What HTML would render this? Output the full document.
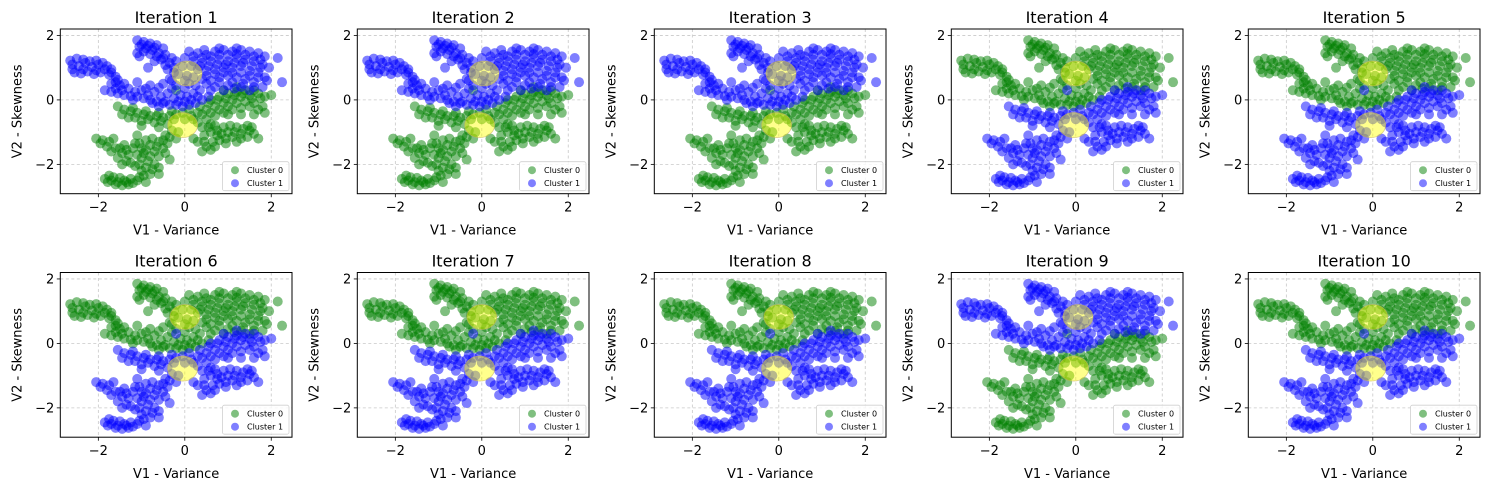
<!DOCTYPE html>
<html><head><meta charset="utf-8">
<style>
html,body{margin:0;padding:0;background:#fff;}
svg{display:block;font-family:"DejaVu Sans","Liberation Sans",sans-serif;}
</style></head>
<body>
<svg id="fig" width="1489" height="490" viewBox="0 0 1489 490" xmlns="http://www.w3.org/2000/svg"></svg>
<script>
// ---- data: upper group (cluster 1 in unswapped iterations) ----
const upperX = [
-2.65,-2.5,-2.35,-2.2,-2.05,-1.9,-1.8,-1.7,-2.55,-2.4,-2.25,-2.1,-1.95,-1.75,-1.6,-2.45,-2.15,-1.6,-1.5,
-1.1,-0.95,-0.8,-0.65,-0.5,-1.05,-0.9,-0.75,-0.6,-0.45,-1.1,-0.3,-0.2,-0.85,-0.55,-0.4,-0.15,-0.3,
0.1,0.3,0.5,0.7,0.9,1.1,1.3,1.5,1.7,1.85,0.2,0.4,0.6,0.8,1.0,1.2,1.4,1.6,1.8,0.3,0.5,0.7,0.9,1.1,1.3,1.5,1.7,1.85,0.4,0.6,0.8,1.0,1.2,1.4,1.6,1.8,0.7,1.0,1.3,1.5,2.15,2.25,1.95,0.0,-0.05,
-1.85,-1.7,-1.55,-1.4,-1.25,-1.1,-0.95,-0.8,-0.65,-0.5,-0.35,-0.2,-0.05,0.1,0.25,0.4,0.55,-1.3,-1.0,-0.7,-0.4,-0.1,0.2,-0.8,-0.5,-0.2,0.1,-1.1,-1.7,-0.6,0.0,0.35,
-2.6,-2.3,-2.0,-1.85,-2.35,-2.05,-1.7,-1.55,-2.6,-1.4,
-1.0,-0.85,-0.7,-0.95,-0.8,-0.65,-0.5,-0.35,-1.05,-0.7,-0.45,-0.25,-0.25,
0.2,0.4,0.6,0.8,1.0,1.2,1.4,1.6,1.75,0.15,0.35,0.55,0.75,0.95,1.15,1.35,1.55,1.75,0.2,0.5,0.7,0.9,1.1,1.3,1.5,1.7,0.5,0.8,1.1,1.35,1.6,0.9,1.15,0.6,0.25,0.0,1.9,0.45,0.8,1.2,
-1.6,-1.45,-1.15,-0.85,-0.55,-0.25,0.05,0.3,-0.9,-0.6,-0.3,0.0,-0.75,-0.45,-0.15,0.15,-1.2,-0.35,0.05
];
const upperY = [
1.22,1.28,1.25,1.2,1.22,1.15,1.05,0.95,0.85,0.82,0.88,0.8,0.85,0.78,0.72,1.05,1.02,0.55,0.45,
1.85,1.8,1.75,1.7,1.6,1.65,1.6,1.55,1.45,1.4,1.45,1.3,1.2,1.0,1.25,0.95,0.8,0.6,
1.5,1.45,1.4,1.5,1.55,1.5,1.55,1.5,1.45,1.35,1.2,1.15,1.2,1.25,1.2,1.3,1.25,1.2,1.1,0.95,0.9,0.95,1.0,1.0,1.05,0.9,0.85,0.7,0.65,0.6,0.7,0.75,0.7,0.65,0.55,0.4,0.4,0.45,0.4,0.3,1.3,0.55,1.0,1.3,1.05,
0.3,0.25,0.2,0.15,0.12,0.1,0.05,0.0,-0.05,-0.1,-0.15,-0.15,-0.2,-0.15,-0.1,0.0,0.1,0.35,0.3,0.25,0.2,0.15,0.2,0.45,0.5,0.45,0.5,0.55,0.5,-0.2,-0.05,0.3,
1.1,1.15,1.1,0.95,0.95,0.92,0.85,0.62,0.95,0.5,
1.72,1.68,1.62,1.5,1.42,1.35,1.3,1.15,1.35,1.2,1.08,1.0,0.85,
1.35,1.3,1.35,1.4,1.4,1.42,1.4,1.35,1.25,1.05,1.05,1.05,1.1,1.1,1.15,1.15,1.05,1.0,0.7,0.75,0.8,0.85,0.85,0.85,0.75,0.7,0.5,0.55,0.55,0.5,0.4,0.3,0.35,0.3,0.45,0.6,0.6,1.55,1.6,1.6,
0.35,0.3,0.25,0.15,0.1,0.05,0.1,0.1,0.35,0.38,0.35,0.35,-0.1,-0.05,-0.05,0.0,0.0,0.65,0.75
];
// ---- lower group (cluster 0 in unswapped iterations) ----
const lowerX = [
-1.55,-1.4,-1.25,-1.1,-0.95,-0.8,-0.65,-0.5,-0.35,-0.2,-1.3,-1.0,-0.7,-0.4,0.0,0.15,0.3,0.5,0.7,0.9,1.1,1.3,1.5,1.7,1.85,0.6,0.8,1.0,1.2,1.4,0.5,0.7,0.9,1.1,1.3,1.5,1.7,1.85,2.0,0.4,0.3,1.2,-0.2,
0.45,0.6,0.75,0.9,1.05,1.2,1.35,1.5,1.6,1.45,1.3,1.1,0.95,0.8,0.65,0.5,0.6,0.3,1.7,0.2,
-2.05,-1.9,-1.75,-1.6,-1.45,-1.3,-1.55,-1.2,-1.05,-0.9,-0.75,-0.6,-0.45,-0.3,-0.15,-1.1,-0.9,-0.7,-0.5,-1.0,-0.85,-0.7,-1.15,-1.0,-0.8,-0.6,-0.35,-1.4,-1.25,-0.2,
-1.85,-1.7,-1.55,-1.4,-1.25,-1.1,-1.6,-1.3,-0.9,-1.75,
-1.45,-1.15,-0.85,-0.55,-0.25,-1.2,-0.9,-0.6,-0.3,-0.05,0.1,0.35,0.55,0.75,0.95,1.15,1.35,1.55,1.75,0.4,0.6,0.8,1.0,1.2,1.4,1.6,1.8,1.0,1.3,1.6,0.6,0.2,-1.0,-0.6,1.6,0.9,
0.55,0.7,0.85,1.0,1.15,1.3,1.45,1.55,0.75,0.45,0.95,1.2,0.7,0.4,
-1.95,-1.8,-1.7,-1.5,-1.35,-1.15,-1.0,-0.8,-0.65,-0.5,-0.35,-1.1,-0.95,-0.8,-0.6,-0.45,-1.05,-0.9,-0.75,-0.6,-0.95,-1.35,-1.45,-0.4,-1.65,
-1.78,-1.5,-1.35,-1.2,-1.05,-1.45,-1.65
];
const lowerY = [
-0.2,-0.3,-0.35,-0.4,-0.45,-0.5,-0.5,-0.55,-0.5,-0.45,-0.55,-0.65,-0.7,-0.75,-0.6,-0.5,-0.4,-0.3,-0.2,-0.1,0.0,0.1,0.15,0.2,0.1,0.0,0.1,0.2,0.25,0.3,-0.6,-0.5,-0.4,-0.3,-0.25,-0.2,-0.3,-0.4,0.15,-0.85,-0.7,0.4,0.3,
-1.1,-1.0,-0.95,-0.85,-0.8,-0.85,-0.9,-0.95,-1.05,-1.15,-1.2,-1.15,-1.2,-1.25,-1.3,-1.45,-1.55,-1.3,-1.2,-1.2,
-1.2,-1.25,-1.3,-1.5,-1.65,-1.7,-1.8,-1.5,-1.35,-1.25,-1.2,-1.3,-1.1,-0.95,-1.0,-1.1,-1.55,-1.6,-1.5,-1.8,-1.9,-2.0,-2.05,-2.2,-2.3,-2.1,-1.85,-1.4,-1.95,-1.2,
-2.45,-2.5,-2.55,-2.5,-2.45,-2.5,-2.62,-2.62,-2.55,-2.35,
-0.45,-0.55,-0.6,-0.65,-0.6,-0.25,-0.35,-0.4,-0.35,-0.4,-0.3,-0.2,-0.1,0.0,0.05,0.15,0.2,0.05,0.05,-0.45,-0.4,-0.3,-0.2,-0.1,-0.05,-0.1,-0.2,-0.45,-0.45,-0.45,-0.75,-0.6,-0.8,-0.85,0.3,0.3,
-0.85,-0.8,-1.05,-1.0,-1.0,-1.05,-0.8,-0.85,-1.1,-1.3,-1.35,-1.3,-1.45,-1.6,
-1.35,-1.45,-1.6,-1.5,-1.55,-1.35,-1.5,-1.4,-1.45,-1.25,-1.15,-1.7,-1.65,-1.75,-1.75,-1.65,-2.0,-2.1,-2.15,-2.3,-2.35,-1.9,-2.0,-1.35,-1.2,
-2.55,-2.42,-2.55,-2.58,-2.4,-2.65,-2.4
];
// 0 = upper group labelled cluster 1, 1 = labels swapped
const iterSwap = [0,0,0,1,1,1,1,1,0,1];
const iterTitles = ["Iteration 1","Iteration 2","Iteration 3","Iteration 4","Iteration 5","Iteration 6","Iteration 7","Iteration 8","Iteration 9","Iteration 10"];
const centUpperX = [0.05,0.05,0.05,0.0,0.0,0.0,0.0,0.0,0.05,0.0];
const centUpperY = [0.82,0.82,0.82,0.82,0.82,0.82,0.82,0.82,0.82,0.82];
const centLowerX = [-0.05,-0.05,-0.05,-0.05,-0.05,-0.05,-0.05,-0.05,-0.05,-0.05];
const centLowerY = [-0.78,-0.78,-0.78,-0.78,-0.78,-0.78,-0.78,-0.78,-0.78,-0.78];
const xTicks = [-2,0,2];
const yTicks = [-2,0,2];
const xTickLabels = ["\u22122","0","2"];
const yTickLabels = ["\u22122","0","2"];

// ---- layout ----
const NS = "http://www.w3.org/2000/svg";
const svg = document.getElementById("fig");
const XMIN=-2.88, XMAX=2.48, YMIN=-2.91, YMAX=2.2;
const W=231.7, H=164.7;
function mk(tag, attrs, parent){const e=document.createElementNS(NS,tag);for(const k in attrs)e.setAttribute(k,attrs[k]);(parent||svg).appendChild(e);return e;}
const defs = mk("defs",{});
for(let i=0;i<10;i++){
  const col=i%5,row=Math.floor(i/5);
  const L=60.3+297*col, T=row===0?29:272.5;
  const sx=v=>L+(v-XMIN)/(XMAX-XMIN)*W;
  const sy=v=>T+(YMAX-v)/(YMAX-YMIN)*H;
  const g=mk("g",{});
  
  
  const cp=mk("clipPath",{id:"cp"+i},defs);
  mk("rect",{x:L,y:T,width:W,height:H},cp);
  xTicks.forEach(t=>{const l=mk("line",{x1:sx(t),x2:sx(t),y1:T,y2:T+H,stroke:"#b0b0b0","stroke-width":0.8,"stroke-dasharray":"3,2.5","stroke-opacity":0.7},g);});
  yTicks.forEach(t=>{const l=mk("line",{x1:L,x2:L+W,y1:sy(t),y2:sy(t),stroke:"#b0b0b0","stroke-width":0.8,"stroke-dasharray":"3,2.5","stroke-opacity":0.7},g);});
  const pg=mk("g",{"clip-path":"url(#cp"+i+")"},g);
  
  
  const sw=iterSwap[i];
  const c0 = sw ? [upperX,upperY] : [lowerX,lowerY];
  const c1 = sw ? [lowerX,lowerY] : [upperX,upperY];
  [[c0,0],[c1,1]].forEach(([arr,cl])=>{
    for(let p=0;p<arr[0].length;p++){
      const c=mk("circle",{cx:sx(arr[0][p]),cy:sy(arr[1][p]),r:5,fill:cl===0?"#008000":"#0000ff","fill-opacity":0.5},pg);
      
      
    }
  });
  [[centUpperX[i],centUpperY[i]],[centLowerX[i],centLowerY[i]]].forEach(([cx,cy])=>{
    const e=mk("ellipse",{cx:sx(cx),cy:sy(cy),rx:15,ry:12.5,fill:"#ffff00","fill-opacity":0.45,stroke:"#c8b060","stroke-width":0.8,"stroke-opacity":0.6},pg);
    
    
  });
  const fr=mk("rect",{x:L,y:T,width:W,height:H,fill:"none",stroke:"#000","stroke-width":1},g);
  
  
  xTicks.forEach((t,k)=>{mk("line",{x1:sx(t),x2:sx(t),y1:T+H,y2:T+H+3.5,stroke:"#000","stroke-width":0.8},g);
    const tx=mk("text",{x:sx(t),y:T+H+18,"font-size":13,"text-anchor":"middle",fill:"#000"},g);tx.textContent=xTickLabels[k];
    });
  yTicks.forEach((t,k)=>{mk("line",{x1:L-3.5,x2:L,y1:sy(t),y2:sy(t),stroke:"#000","stroke-width":0.8},g);
    const tx=mk("text",{x:L-6,y:sy(t)+4.5,"font-size":13,"text-anchor":"end",fill:"#000"},g);tx.textContent=yTickLabels[k];
    });
  const ti=mk("text",{x:L+W/2,y:T-6,"font-size":16,"text-anchor":"middle",fill:"#000"},g);ti.textContent=iterTitles[i];
  
  const xl=mk("text",{x:L+W/2,y:T+H+41,"font-size":13,"text-anchor":"middle",fill:"#000"},g);xl.textContent="V1 - Variance";
  
  const yl=mk("text",{x:0,y:0,"font-size":13,"text-anchor":"middle",fill:"#000",transform:"translate("+(L-39)+","+(T+H/2)+") rotate(-90)"},g);yl.textContent="V2 - Skewness";
  
  const lg=mk("g",{},g);
  
  
  mk("rect",{x:L+W-69.5,y:T+H-32,width:66.5,height:29,rx:2,fill:"#fff","fill-opacity":0.8,stroke:"#d0d0d0","stroke-width":0.8},lg);
  const m0=mk("circle",{cx:L+W-57,cy:T+H-23.5,r:4,fill:"#008000","fill-opacity":0.5},lg);
  
  const t0=mk("text",{x:L+W-45,y:T+H-20.5,"font-size":8,fill:"#000"},lg);t0.textContent="Cluster 0";
  
  const m1=mk("circle",{cx:L+W-57,cy:T+H-10.5,r:4,fill:"#0000ff","fill-opacity":0.5},lg);
  
  const t1=mk("text",{x:L+W-45,y:T+H-7.5,"font-size":8,fill:"#000"},lg);t1.textContent="Cluster 1";
  
}
</script>
</body></html>
